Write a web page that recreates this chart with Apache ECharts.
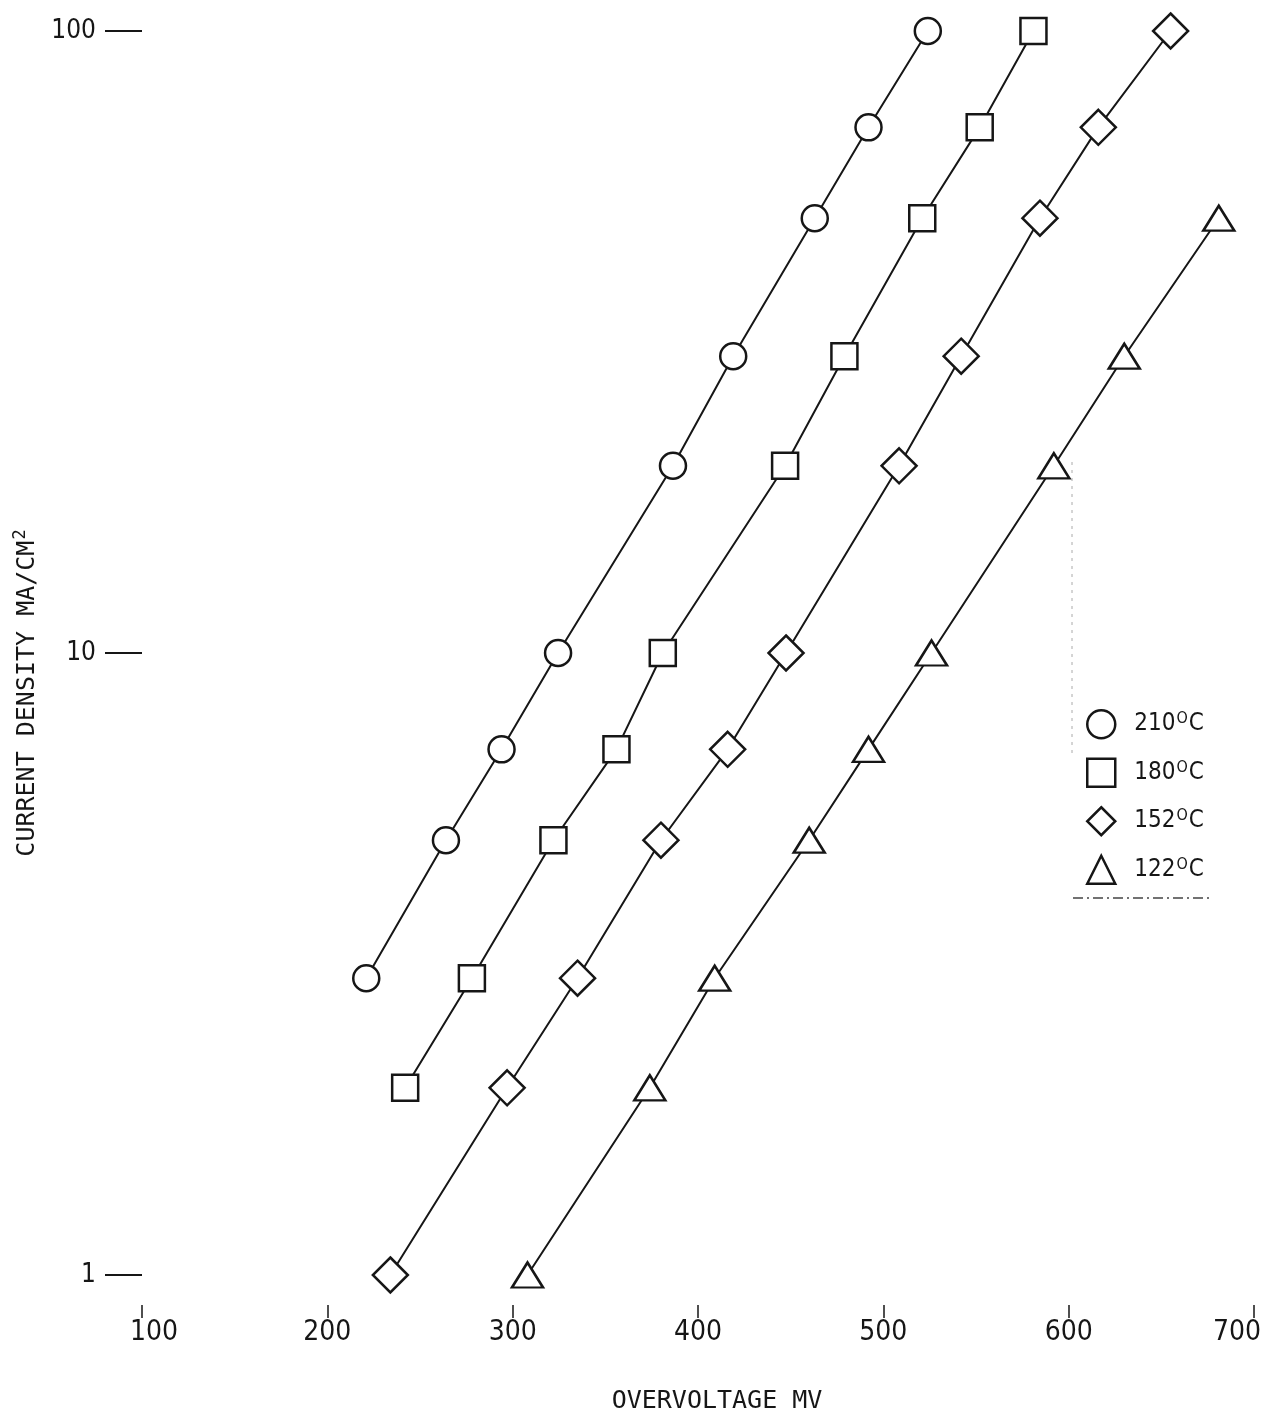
<!DOCTYPE html>
<html>
<head>
<meta charset="utf-8">
<script src="https://cdn.jsdelivr.net/npm/echarts@6/dist/echarts.min.js"></script>
<style>
  html, body { margin: 0; padding: 0; background: #fff; overflow: hidden; }
  #chart { width: 1265px; height: 1413px; }
</style>
</head>
<body>
<div id="chart"></div>
<script>
// Tafel plot: current density (log) versus overvoltage at four temperatures
const NUM_FONT = '"DejaVu Sans Condensed", "DejaVu Sans", sans-serif';
const NAME_FONT = '"DejaVu Sans Mono", monospace';
const INK = '#161616';

const temperatures = ['210', '180', '152', '122'];
const symbols = ['circle', 'rect', 'diamond', 'triangle'];

// overvoltage (mV) and current density (mA/cm2) for each temperature
const mv210 = [221, 264, 294, 324.5, 386.5, 419, 463, 492, 524];
const cd210 = [3, 5, 7, 10, 20, 30, 50, 70, 100];

const mv180 = [242, 278, 322, 356, 381, 447, 479, 521, 552, 581];
const cd180 = [2, 3, 5, 7, 10, 20, 30, 50, 70, 100];

const mv152 = [234, 297, 335, 380, 416, 447.5, 508.5, 542, 584.5, 616, 655];
const cd152 = [1, 2, 3, 5, 7, 10, 20, 30, 50, 70, 100];

const mv122 = [308, 374, 409, 460, 492, 526, 592, 630, 681];
const cd122 = [1, 2, 3, 5, 7, 10, 20, 30, 50];

const xTicks = [100, 200, 300, 400, 500, 600, 700];
const yTicks = [1, 10, 100];

const seriesSets = [
  { t: temperatures[0], sym: symbols[0], size: 26, mv: mv210, cd: cd210 },
  { t: temperatures[1], sym: symbols[1], size: 26, mv: mv180, cd: cd180 },
  { t: temperatures[2], sym: symbols[2], size: 35, mv: mv152, cd: cd152 },
  { t: temperatures[3], sym: symbols[3], size: [31, 25], mv: mv122, cd: cd122 }
];

const tickTextStyle = { fontFamily: NUM_FONT, fontSize: 28, color: INK };

const chart = echarts.init(document.getElementById('chart'), null, { renderer: 'canvas' });

chart.setOption({
  animation: false,
  backgroundColor: '#fff',
  grid: { left: 142, right: 11, top: 31, bottom: 138, containLabel: false, outerBoundsMode: 'none' },
  xAxis: {
    type: 'value',
    min: xTicks[0],
    max: xTicks[xTicks.length - 1],
    interval: 100,
    offset: 43,
    name: 'OVERVOLTAGE MV',
    nameLocation: 'middle',
    nameGap: 71,
    nameTextStyle: { fontFamily: NAME_FONT, fontSize: 25, color: INK, padding: [0, 0, 0, 38] },
    axisLine: { show: false },
    axisTick: { show: true, inside: true, length: 13, lineStyle: { color: INK, width: 1.5 } },
    axisLabel: {
      ...tickTextStyle,
      margin: 1,
      // end labels sit slightly inward of their ticks
      formatter: v => v === xTicks[0] ? `{first|${v}}` : v === xTicks[xTicks.length - 1] ? `{last|${v}}` : `${v}`,
      rich: {
        first: { ...tickTextStyle, padding: [0, 0, 0, 24] },
        last: { ...tickTextStyle, padding: [0, 34, 0, 0] }
      }
    },
    splitLine: { show: false }
  },
  yAxis: {
    type: 'log',
    logBase: 10,
    min: yTicks[0],
    max: yTicks[yTicks.length - 1],
    name: '{a|CURRENT DENSITY MA/CM}{s|2}',
    nameLocation: 'middle',
    nameGap: 85,
    nameTextStyle: {
      color: INK,
      padding: [0, 80, 0, 0],
      rich: {
        a: { fontFamily: NAME_FONT, fontSize: 25, color: INK, lineHeight: 30 },
        s: { fontFamily: NAME_FONT, fontSize: 17, color: INK, padding: [0, 0, 14, 1] }
      }
    },
    axisLine: { show: false },
    axisTick: { show: true, length: 37, lineStyle: { color: INK, width: 2 } },
    axisLabel: { fontFamily: NUM_FONT, fontSize: 26, color: INK, margin: 46 },
    minorTick: { show: false },
    splitLine: { show: false }
  },
  legend: {
    orient: 'vertical',
    left: 1081,
    top: 704,
    itemWidth: 28,
    itemHeight: 28,
    itemGap: 18,
    selectedMode: false,
    data: seriesSets.map(s => ({ name: s.t, icon: s.sym })),
    itemStyle: { color: '#fff', borderColor: INK, borderWidth: 2.5 },
    formatter: name => `{n|${name}}{s|O}{n|C}`,
    textStyle: {
      padding: [0, 0, 0, 14],
      rich: {
        n: { fontFamily: NUM_FONT, fontSize: 24, color: INK, lineHeight: 28 },
        s: { fontFamily: NUM_FONT, fontSize: 16, color: INK, padding: [0, 1, 10, 1] }
      }
    }
  },
  graphic: [
    {
      type: 'line',
      shape: { x1: 1073, y1: 898, x2: 1213, y2: 898 },
      style: { stroke: '#444', lineWidth: 1.5, lineDash: [10, 4, 2, 4] },
      silent: true
    },
    {
      type: 'line',
      shape: { x1: 1072, y1: 462, x2: 1072, y2: 757 },
      style: { stroke: '#aaa', lineWidth: 1, lineDash: [3, 5] },
      silent: true
    }
  ],
  series: seriesSets.map(s => ({
    name: s.t,
    type: 'line',
    data: s.mv.map((v, i) => [v, s.cd[i]]),
    symbol: s.sym,
    symbolSize: s.size,
    showAllSymbol: true,
    lineStyle: { color: INK, width: 2 },
    itemStyle: { color: '#fff', borderColor: INK, borderWidth: 2.5 },
    emphasis: { disabled: true },
    z: 3
  }))
});
</script>
</body>
</html>
